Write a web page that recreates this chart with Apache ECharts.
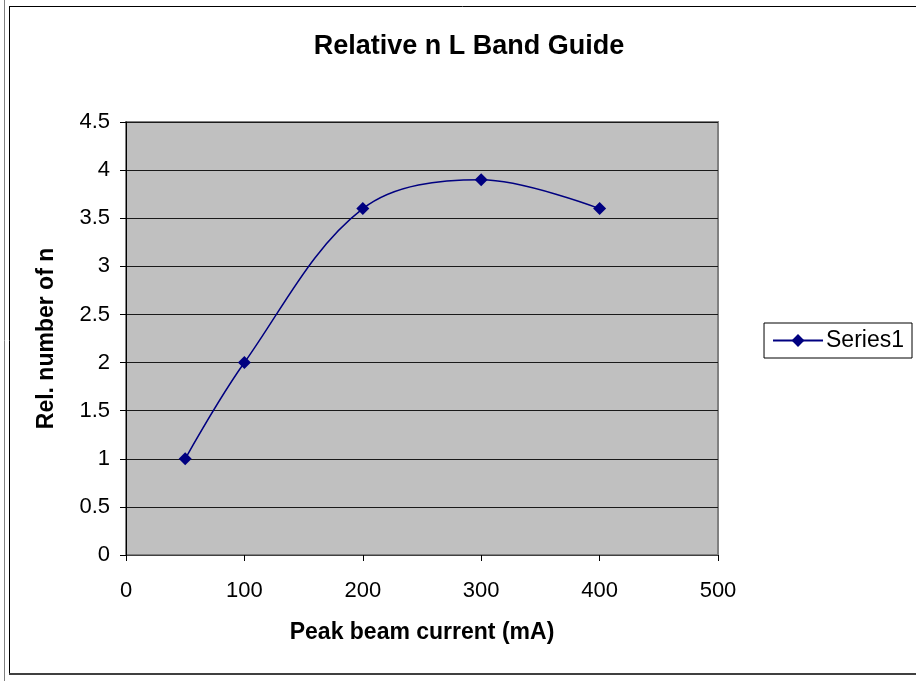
<!DOCTYPE html>
<html>
<head>
<meta charset="utf-8">
<script src="https://cdn.jsdelivr.net/npm/echarts@6/dist/echarts.min.js"></script>
<style>html,body{margin:0;padding:0;background:#fff;}#c{width:916px;height:681px;}</style>
</head>
<body>
<div id="c"></div>
<script>
var xValues = [50, 100, 200, 300, 400];
var yValues = [1, 2, 3.6, 3.9, 3.6];
var seriesName = 'Series1';
var titleText = 'Relative n L Band Guide';
var xName = 'Peak beam current (mA)';
var yName = 'Rel. number of n';

var chart = echarts.init(document.getElementById('c'), null, {renderer: 'canvas'});
var F = '"Liberation Sans", Arial, sans-serif';
chart.setOption({
  animation: false,
  backgroundColor: '#fff',
  graphic: [
    {type: 'line', shape: {x1: 4.5, y1: 0, x2: 4.5, y2: 681}, style: {stroke: '#808080', lineWidth: 1}},
    {type: 'line', shape: {x1: 9.5, y1: 6, x2: 9.5, y2: 675}, style: {stroke: '#000', lineWidth: 1}},
    {type: 'line', shape: {x1: 9, y1: 6.5, x2: 916, y2: 6.5}, style: {stroke: '#000', lineWidth: 1}},
    {type: 'line', shape: {x1: 9, y1: 674, x2: 916, y2: 674}, style: {stroke: '#404040', lineWidth: 2}}
  ],
  title: {
    text: titleText,
    left: 464, top: 28, textAlign: 'center',
    textStyle: {fontFamily: F, fontSize: 27, fontWeight: 'bold', color: '#000'}
  },
  legend: {
    right: 4, top: 323,
    orient: 'vertical',
    itemWidth: 50, itemHeight: 16,
    padding: [6, 8, 6, 8],
    borderColor: '#000', borderWidth: 1,
    textStyle: {fontFamily: F, fontSize: 23, color: '#000', padding: [0, 0, 0, -2]},
    data: [seriesName]
  },
  grid: {
    left: 126, top: 122, width: 592, height: 433,
    show: true, backgroundColor: '#c0c0c0', borderColor: '#808080', borderWidth: 2
  },
  xAxis: {
    type: 'value', min: 0, max: 500, interval: 100,
    name: xName, nameLocation: 'middle', nameGap: 66,
    nameTextStyle: {fontFamily: F, fontSize: 23, fontWeight: 'bold', color: '#000'},
    axisLine: {show: true, onZero: false, lineStyle: {color: '#404040', width: 1}},
    axisTick: {show: true, length: 6, lineStyle: {color: '#000'}},
    axisLabel: {fontFamily: F, fontSize: 22, color: '#000', margin: 25},
    splitLine: {show: false}
  },
  yAxis: {
    type: 'value', min: 0, max: 4.5, interval: 0.5,
    name: yName, nameLocation: 'middle', nameGap: 68,
    nameTextStyle: {fontFamily: F, fontSize: 23, fontWeight: 'bold', color: '#000'},
    axisLine: {show: true, lineStyle: {color: '#000', width: 1}},
    axisTick: {show: true, length: 6, lineStyle: {color: '#000'}},
    axisLabel: {fontFamily: F, fontSize: 22, color: '#000', margin: 16},
    splitLine: {show: true, lineStyle: {color: '#1a1a1a', width: 1}}
  },
  series: [{
    name: seriesName,
    type: 'line',
    smooth: 0.35,
    data: xValues.map(function (x, i) { return [x, yValues[i]]; }),
    symbol: 'diamond', symbolSize: 13,
    lineStyle: {color: '#000080', width: 1.5},
    itemStyle: {color: '#000080'}
  }]
});
</script>
</body>
</html>
